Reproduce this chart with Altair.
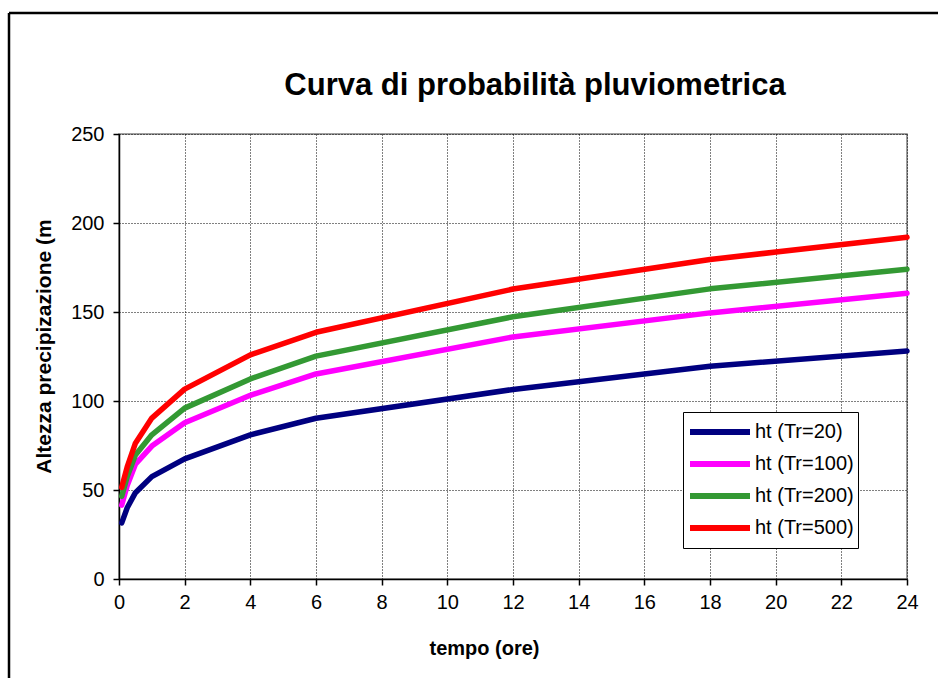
import altair as alt
import pandas as pd

# --- data ---
durations = [0.083, 0.25, 0.5, 1, 2, 4, 6, 12, 18, 24]
series_names = ["ht (Tr=20)", "ht (Tr=100)", "ht (Tr=200)", "ht (Tr=500)"]
h_tr20 = [31.5, 40.0, 48.5, 57.5, 67.5, 81.0, 90.3, 106.5, 119.5, 128.1]
h_tr100 = [41.5, 52.5, 64.5, 74.7, 87.8, 103.2, 115.2, 136.0, 149.5, 160.5]
h_tr200 = [46.5, 57.5, 69.7, 81.0, 96.0, 112.4, 125.2, 147.3, 163.0, 174.0]
h_tr500 = [51.5, 63.0, 76.3, 90.4, 106.7, 125.9, 138.6, 162.9, 179.5, 192.0]
series_colors = ["#000080", "#FF00FF", "#339933", "#FF0000"]
x_ticks = list(range(0, 25, 2))
y_ticks = [0, 50, 100, 150, 200, 250]

rows = []
for name, vals in zip(series_names, [h_tr20, h_tr100, h_tr200, h_tr500]):
    for t, h in zip(durations, vals):
        rows.append({"tempo": t, "h": h, "serie": name})
df = pd.DataFrame(rows)

FONT = "Liberation Sans"

lines = alt.Chart(df).mark_line(strokeWidth=5.5, strokeJoin="round", strokeCap="round").encode(
    x=alt.X("tempo:Q",
            scale=alt.Scale(domain=[0, 24], nice=False, zero=False),
            axis=alt.Axis(values=x_ticks, title="tempo (ore)", titleX=365, titleY=69,
                          titleAlign="center", titleBaseline="middle",
                          grid=True, gridColor="black", gridDash=[1, 2], gridWidth=1,
                          domainColor="black", domainWidth=1.5,
                          tickColor="black", tickSize=6, tickWidth=1.5,
                          labelPadding=7, labelFontSize=20, titleFontSize=20,
                          labelFont=FONT, titleFont=FONT, titleFontWeight="bold",
                          labelColor="black", titleColor="black", labelFlush=False)),
    y=alt.Y("h:Q",
            scale=alt.Scale(domain=[0, 250], nice=False),
            axis=alt.Axis(values=y_ticks, title="Altezza precipizazione (m",
                          titleX=-75, titleY=212, titleAngle=270,
                          titleAlign="center", titleBaseline="middle",
                          grid=True, gridColor="black", gridDash=[1, 2], gridWidth=1,
                          domainColor="black", domainWidth=1.5,
                          tickColor="black", tickSize=6, tickWidth=1.5,
                          labelPadding=9, labelFontSize=20, titleFontSize=21,
                          labelFont=FONT, titleFont=FONT, titleFontWeight="bold",
                          labelColor="black", titleColor="black")),
    color=alt.Color("serie:N",
                    scale=alt.Scale(domain=series_names, range=series_colors),
                    legend=alt.Legend(title=None, orient="none", legendX=564, legendY=278,
                                      symbolType="stroke", symbolSize=3600,
                                      symbolStrokeWidth=6, clipHeight=32, rowPadding=0,
                                      labelOffset=2, labelFontSize=20, labelFont=FONT,
                                      labelColor="black", padding=4,
                                      strokeColor="black", fillColor="white")),
    order=alt.Order("tempo:Q"),
)

frame_df = pd.DataFrame({"k": [0]})
frame_top = alt.Chart(frame_df).mark_rule(color="black", strokeWidth=2.5).encode(
    x=alt.value(-110), x2=alt.value(840), y=alt.value(-121))
frame_left = alt.Chart(frame_df).mark_rule(color="black", strokeWidth=2.5).encode(
    x=alt.value(-110), y=alt.value(-121), y2=alt.value(560))

chart = alt.layer(lines, frame_top, frame_left).properties(
    width=788, height=445,
    title=alt.TitleParams("Curva di probabilità pluviometrica", fontSize=31,
                          fontWeight="bold", font=FONT, color="black",
                          anchor="middle", dx=22, dy=153, offset=39, baseline="alphabetic"),
    autosize=alt.AutoSizeParams(type="none"),
    padding={"left": 119, "top": 134, "right": 31, "bottom": 99},
    background="white",
).configure_view(stroke="#808080", strokeWidth=1.5)

chart.save("out.html", embed_options={"renderer": "svg", "actions": False})
